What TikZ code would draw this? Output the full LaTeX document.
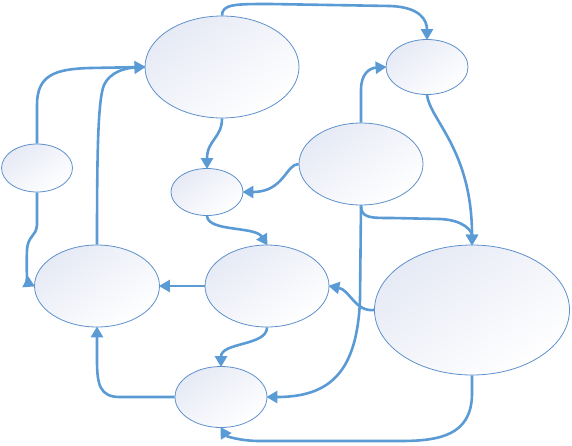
\documentclass[tikz,border=0pt]{standalone}
\usetikzlibrary{shapes.geometric,arrows.meta}
\definecolor{linkblue}{HTML}{5B9BD5}
\definecolor{rimblue}{HTML}{5E90CC}
\definecolor{shadeblue}{HTML}{E6EAF5}
\begin{document}
\begin{tikzpicture}[x=1pt,y=-1pt,
  bubble/.style={ellipse, draw=rimblue, line width=0.8pt, inner sep=0pt,
    top color=shadeblue, bottom color=white, shading angle=35},
  link/.style={draw=linkblue, line width=2.6pt,
    -{Triangle[length=11pt,width=12pt]}, shorten >=-1pt}]
\useasboundingbox (0,0) rectangle (572,445);
% nodes
\node[bubble, minimum width=154pt, minimum height=102pt] (A) at (222,67) {};
\node[bubble, minimum width=82pt,  minimum height=55pt]  (B) at (427,67) {};
\node[bubble, minimum width=71pt,  minimum height=48pt]  (C) at (37,168) {};
\node[bubble, minimum width=72pt,  minimum height=47pt]  (D) at (207,192) {};
\node[bubble, minimum width=125pt, minimum height=82pt]  (E) at (97,286) {};
\node[bubble, minimum width=124pt, minimum height=82pt]  (F) at (267,286) {};
\node[bubble, minimum width=124pt, minimum height=82pt]  (G) at (361,164) {};
\node[bubble, minimum width=195pt, minimum height=130pt] (H) at (472,310) {};
\node[bubble, minimum width=92pt,  minimum height=61pt]  (I) at (221,397) {};
% connectors
\draw[link] (A.north) .. controls (222,4) and (235,4) .. (270,4) -- (390,6) .. controls (420,7) and (427,20) .. (B.north);
\draw[link] (C.north) -- (37,105) .. controls (37,75) and (55,69) .. (90,68) -- (A.west);
\draw[link] (E.north) .. controls (97,150) and (98,100) .. (104,85) .. controls (110,72) and (125,68) .. (A.west);
\draw[link] (A.south) .. controls (222,138) and (207,140) .. (D.north);
\draw[link] (G.west) .. controls (286,164) and (284,192) .. (D.east);
\draw[link] (G.north) -- (361,90) .. controls (361,73) and (370,68) .. (B.west);
\draw[link] (B.south) .. controls (430,120) and (472,150) .. (H.north);
\draw[link] (G.south) .. controls (361,218) and (370,218) .. (392,218) -- (440,219) .. controls (465,220) and (472,232) .. (H.north);
\draw[link] (C.south) -- (37,225) .. controls (36,237) and (28,235) .. (27,250) .. controls (26,270) and (28,283) .. (E.west);
\draw[link] (D.south) .. controls (208,232) and (255,226) .. (F.north);
\draw[link] (F.west) -- (E.east);
\draw[link] (H.west) .. controls (355,312) and (350,290) .. (F.east);
\draw[link] (G.south) -- (360,300) .. controls (357,372) and (330,397) .. (I.east);
\draw[link] (F.south) .. controls (267,346) and (221,342) .. (I.north);
\draw[link] (I.west) -- (120,397) .. controls (100,397) and (97,385) .. (97,360) -- (E.south);
\draw[link] (H.south) -- (472,395) .. controls (471,435) and (440,441) .. (400,441) -- (260,441) .. controls (240,441) and (226,436) .. (I.south);
\end{tikzpicture}
\end{document}
